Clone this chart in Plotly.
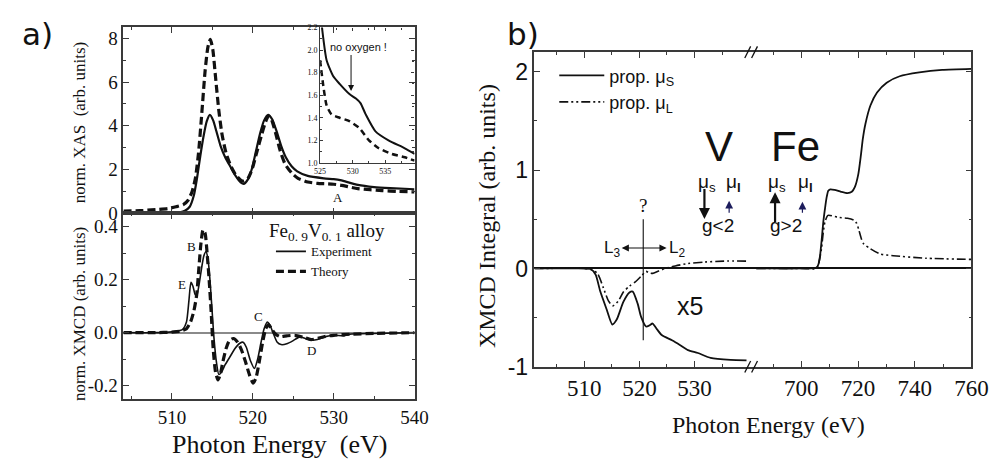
import plotly.graph_objects as go

W, H = 999, 463
def px(x): return x / W
def py(y): return 1 - y / H

SERIF = "Liberation Serif"
SANS = "Liberation Sans"
INK = "#111111"
AX = "#3a3a3a"

# ---------------- panel a: XAS ----------------
xas_exp_E = [504, 508, 510, 511, 511.6, 512.2, 512.7, 513.1, 513.5, 513.9, 514.3, 514.7, 515.1, 515.5,
             516.0, 516.6, 517.2, 517.9, 518.5, 518.9, 519.4, 519.9, 520.4, 520.9, 521.4, 521.9, 522.4,
             522.9, 523.5, 524.1, 524.8, 525.5, 526.8, 528.8, 530.0, 530.8, 531.5, 533.0, 535.0, 537.0, 540.0]
xas_exp_I = [0.0, 0.0, 0.02, 0.05, 0.12, 0.3, 0.8, 1.6, 2.6, 3.5, 4.2, 4.5, 4.25, 3.75,
             3.1, 2.55, 2.15, 1.7, 1.42, 1.35, 1.55, 2.05, 2.85, 3.65, 4.25, 4.5, 4.3,
             3.8, 3.1, 2.55, 2.15, 1.92, 1.71, 1.6, 1.56, 1.52, 1.45, 1.3, 1.2, 1.15, 1.1]

xas_th_E = [504, 506, 508, 509.5, 510.5, 511.4, 512.0, 512.5, 512.9, 513.3, 513.7, 514.1, 514.45, 514.75,
            515.05, 515.4, 515.8, 516.2, 516.7, 517.3, 517.9, 518.5, 518.9, 519.4, 519.9, 520.5, 521.1,
            521.6, 521.95, 522.3, 522.8, 523.4, 524.0, 524.8, 525.6, 526.8, 528.0, 529.0, 530.0, 531.0,
            532.0, 533.0, 534.5, 536.0, 538.0, 540.0]
xas_th_I = [0.1, 0.12, 0.17, 0.22, 0.3, 0.4, 0.6, 1.0, 1.6, 2.8, 4.6, 6.5, 7.6, 7.95,
            7.5, 6.2, 4.7, 3.6, 2.75, 2.15, 1.75, 1.52, 1.47, 1.6, 2.0, 2.8, 3.6,
            4.2, 4.45, 4.3, 3.7, 2.85, 2.25, 1.85, 1.6, 1.43, 1.37, 1.35, 1.33, 1.28,
            1.2, 1.13, 1.08, 1.04, 1.0, 0.98]

# inset (O K-edge region)
ins_exp_E = [525.0, 525.5, 526.0, 527.0, 528.0, 529.5, 530.5, 531.2, 532.0, 533.5, 535.5, 538.0, 539.5]
ins_exp_I = [2.35, 2.1, 1.91, 1.77, 1.70, 1.61, 1.57, 1.53, 1.43, 1.28, 1.20, 1.13, 1.08]
ins_th_E = [525.0, 525.5, 526.0, 526.75, 528.0, 529.5, 531.0, 532.5, 534.0, 536.0, 538.0, 539.5]
ins_th_I = [1.91, 1.68, 1.51, 1.43, 1.40, 1.37, 1.31, 1.20, 1.13, 1.08, 1.05, 1.02]

# ---------------- panel a: XMCD ----------------
mcd_exp_E = [504, 508, 510, 511, 511.4, 511.8, 512.1, 512.35, 512.6, 512.85, 513.05, 513.35, 513.65,
             513.95, 514.2, 514.45, 514.7, 514.95, 515.2, 515.5, 515.8, 516.1, 516.6, 517.2, 517.8,
             518.4, 518.8, 519.2, 519.7, 520.2, 520.6, 521.0, 521.4, 521.8, 522.1, 522.5, 523.0,
             523.5, 524.2, 525.0, 525.8, 526.5, 527.2, 528.0, 529.0, 530.0, 531.3, 532.0, 535.0, 540.0]
mcd_exp_I = [0, 0, 0.003, 0.008, 0.015, 0.04, 0.12, 0.19, 0.175, 0.145, 0.137, 0.18, 0.24,
             0.29, 0.305, 0.28, 0.2, 0.09, -0.02, -0.11, -0.158, -0.15, -0.12, -0.09, -0.06,
             -0.04, -0.036, -0.055, -0.105, -0.135, -0.1, -0.04, 0.015, 0.04, 0.03, 0.0, -0.035,
             -0.045, -0.042, -0.03, -0.016, -0.022, -0.028, -0.026, -0.015, -0.01, -0.012, -0.006, -0.003, 0]

mcd_th_E = [504, 508, 510, 511, 511.8, 512.3, 512.7, 513.05, 513.35, 513.6, 513.85, 514.1, 514.35,
            514.6, 514.85, 515.1, 515.4, 515.7, 516.0, 516.3, 516.7, 517.1, 517.6, 518.1, 518.6,
            519.1, 519.6, 520.05, 520.4, 520.8, 521.2, 521.6, 521.95, 522.3, 522.8, 523.4, 524.2,
            525.2, 526.3, 527.2, 528.0, 529.0, 530.0, 532.0, 535.0, 540.0]
mcd_th_I = [0, 0, 0.002, 0.005, 0.015, 0.04, 0.08, 0.14, 0.25, 0.34, 0.388, 0.375, 0.3,
            0.2, 0.08, -0.06, -0.15, -0.178, -0.155, -0.11, -0.06, -0.03, -0.022, -0.035, -0.065,
            -0.11, -0.16, -0.19, -0.17, -0.11, -0.04, 0.015, 0.03, 0.015, -0.005, -0.015, -0.012,
            -0.01, -0.018, -0.026, -0.022, -0.014, -0.01, -0.006, -0.003, 0]

# ---------------- panel b: integrals ----------------
v_ms_E = [501, 505, 510, 511.2, 512.1, 512.9, 514.1, 515.1, 515.9, 517.1, 518.2, 518.8, 519.7, 520.3,
          521.2, 521.8, 522.4, 523.2, 524.1, 525.9, 527.4, 528.8, 530.6, 532.9, 536.5, 539.4]
v_ms_I = [0, 0, 0, -0.005, -0.065, -0.23, -0.42, -0.57, -0.52, -0.34, -0.244, -0.235, -0.36, -0.49,
          -0.59, -0.58, -0.56, -0.62, -0.68, -0.73, -0.78, -0.83, -0.86, -0.91, -0.93, -0.935]
v_ml_E = [501, 510, 511.2, 512.4, 513.5, 514.4, 515.2, 516.2, 517.1, 518.2, 519.4, 520.3, 521.2,
          521.8, 522.4, 523.5, 524.7, 526.5, 528.8, 531.8, 535.3, 539.7]
v_ml_I = [0, 0, -0.01, -0.05, -0.2, -0.33, -0.38, -0.33, -0.24, -0.18, -0.13, -0.08, -0.03,
          -0.045, -0.05, -0.025, 0.0, 0.026, 0.05, 0.065, 0.075, 0.075]

fe_ms_E = [684.1, 690, 700, 704.5, 705.4, 706.0, 706.6, 707.2, 707.7, 708.3, 708.9, 709.5, 710.2,
           711.7, 714.0, 716.3, 717.8, 718.9, 720.1, 721.0, 721.7, 722.6, 724.4, 726.7, 730.1,
           734.7, 741.6, 749.7, 760]
fe_ms_I = [0, 0, 0, 0.003, 0.01, 0.04, 0.13, 0.3, 0.46, 0.6, 0.72, 0.79, 0.805,
           0.8, 0.78, 0.766, 0.78, 0.83, 0.96, 1.15, 1.32, 1.47, 1.66, 1.79, 1.89,
           1.955, 1.994, 2.02, 2.03]
fe_ml_E = [684.1, 700, 705.3, 706.1, 707.1, 707.7, 708.3, 709.4, 712.9, 716.3, 718.6, 719.5, 720.3,
           721.2, 722.0, 724.4, 727.8, 732.4, 743.9, 760]
fe_ml_I = [0, 0, 0, 0.05, 0.2, 0.36, 0.47, 0.54, 0.52, 0.51, 0.49, 0.46, 0.39,
           0.3, 0.25, 0.2, 0.147, 0.13, 0.104, 0.092]

fig = go.Figure()

solid_a = dict(color=INK, width=2.2, shape="spline", smoothing=0.6)
dash_a = dict(color=INK, width=3.2, dash="8px,4px", shape="spline", smoothing=0.6)

fig.add_trace(go.Scatter(x=xas_exp_E, y=xas_exp_I, mode="lines", line=solid_a, xaxis="x", yaxis="y", showlegend=False))
fig.add_trace(go.Scatter(x=xas_th_E, y=xas_th_I, mode="lines", line=dash_a, xaxis="x", yaxis="y", showlegend=False))
fig.add_trace(go.Scatter(x=ins_exp_E, y=ins_exp_I, mode="lines", line=dict(color=INK, width=2, shape="spline", smoothing=0.6), xaxis="x3", yaxis="y3", showlegend=False))
fig.add_trace(go.Scatter(x=ins_th_E, y=ins_th_I, mode="lines", line=dict(color=INK, width=2.5, dash="6px,4px", shape="spline", smoothing=0.6), xaxis="x3", yaxis="y3", showlegend=False))
fig.add_trace(go.Scatter(x=mcd_exp_E, y=mcd_exp_I, mode="lines", name="Experiment", line=dict(color=INK, width=1.6, shape="spline", smoothing=0.6), xaxis="x2", yaxis="y2", legend="legend"))
fig.add_trace(go.Scatter(x=mcd_th_E, y=mcd_th_I, mode="lines", name="Theory", line=dash_a, xaxis="x2", yaxis="y2", legend="legend"))

dd = "9px,3px,2px,3px,2px,3px"
fig.add_trace(go.Scatter(x=v_ms_E, y=v_ms_I, mode="lines", name="prop. μ<sub>S</sub>", line=dict(color=INK, width=1.8, shape="spline", smoothing=0.6), xaxis="x4", yaxis="y4", legend="legend2"))
fig.add_trace(go.Scatter(x=v_ml_E, y=v_ml_I, mode="lines", name="prop. μ<sub>L</sub>", line=dict(color=INK, width=1.6, dash=dd, shape="spline", smoothing=0.6), xaxis="x4", yaxis="y4", legend="legend2"))
fig.add_trace(go.Scatter(x=fe_ms_E, y=fe_ms_I, mode="lines", line=dict(color=INK, width=1.8, shape="spline", smoothing=0.6), xaxis="x5", yaxis="y5", showlegend=False))
fig.add_trace(go.Scatter(x=fe_ml_E, y=fe_ml_I, mode="lines", line=dict(color=INK, width=1.6, dash=dd, shape="spline", smoothing=0.6), xaxis="x5", yaxis="y5", showlegend=False))

def axstyle(**kw):
    d = dict(showline=True, linecolor=AX, linewidth=1.5, ticks="inside", tickcolor=AX, ticklen=6,
             tickwidth=1.2, showgrid=False, zeroline=False, mirror="ticks",
             tickfont=dict(family=SERIF, size=19, color=INK))
    d.update(kw)
    return d

xa_dom = [px(112), px(410)]
layout = dict(
    width=W, height=H, margin=dict(l=0, r=0, t=0, b=0),
    paper_bgcolor="white", plot_bgcolor="rgba(0,0,0,0)",
    xaxis=axstyle(domain=xa_dom, range=[504, 540.01], anchor="y", tick0=510, dtick=10, showticklabels=False,
                  minor=dict(ticks="inside", ticklen=3, tickcolor=AX, dtick=5, tick0=505)),
    yaxis=axstyle(domain=[py(209), py(16)], range=[0, 8.5], anchor="x", tick0=0, dtick=2,
                  minor=dict(ticks="inside", ticklen=3, tickcolor=AX, dtick=1, tick0=0)),
    xaxis2=axstyle(domain=xa_dom, range=[504, 540.01], anchor="y2", tick0=510, dtick=10,
                   minor=dict(ticks="inside", ticklen=3, tickcolor=AX, dtick=5, tick0=505)),
    yaxis2=axstyle(domain=[py(401.7), py(209)], range=[-0.25, 0.45], anchor="x2",
                   tickmode="array", tickvals=[-0.2, 0, 0.2, 0.4], ticktext=["-0.2", "0.0", "0.2", "0.4"],
                   zeroline=True, zerolinecolor="#8a8a8a", zerolinewidth=1.6,
                   minor=dict(ticks="inside", ticklen=3, tickcolor=AX, tickvals=[-0.1, 0.1, 0.3])),
    xaxis3=axstyle(domain=[px(313.3), px(410)], range=[525, 539.5], anchor="y3", tick0=525, dtick=5,
                   ticklen=3, linewidth=1.2, tickfont=dict(family=SERIF, size=8, color=INK),
                   minor=dict(ticks="inside", ticklen=2, tickcolor=AX, dtick=2.5)),
    yaxis3=axstyle(domain=[py(156.7), py(16)], range=[1.0, 2.2], anchor="x3", tick0=1.0, dtick=0.2,
                   tickformat=".1f", ticklen=3, linewidth=1.2, tickfont=dict(family=SERIF, size=8, color=INK),
                   minor=dict(ticks="inside", ticklen=2, tickcolor=AX, dtick=0.1)),
    xaxis4=axstyle(domain=[px(532.7), px(756)], range=[501, 540.5], anchor="y4",
                   tickmode="array", tickvals=[510, 520, 530], tickfont=dict(family=SERIF, size=23, color=INK),
                   minor=dict(ticks="inside", ticklen=3, tickcolor=AX, tickvals=[505, 515, 525, 535])),
    xaxis5=axstyle(domain=[px(756), px(980)], range=[682.8, 760.01], anchor="y5", tick0=700, dtick=20,
                   tickfont=dict(family=SERIF, size=23, color=INK),
                   minor=dict(ticks="inside", ticklen=3, tickcolor=AX, dtick=10, tick0=690)),
    yaxis4=axstyle(domain=[py(368.3), py(41.7)], range=[-1, 2.2], anchor="x4", mirror=False,
                   tickmode="array", tickvals=[-1, 0, 1, 2], ticktext=["-1", "0", "1", "2"],
                   tickfont=dict(family=SANS, size=23, color=INK),
                   zeroline=True, zerolinecolor=INK, zerolinewidth=1.5,
                   minor=dict(ticks="inside", ticklen=3, tickcolor=AX, tickvals=[-0.5, 0.5, 1.5])),
    yaxis5=axstyle(domain=[py(368.3), py(41.7)], range=[-1, 2.2], anchor="x5", side="right", mirror=False,
                   tickmode="array", tickvals=[-1, 0, 1, 2], showticklabels=False,
                   zeroline=True, zerolinecolor=INK, zerolinewidth=1.5,
                   minor=dict(ticks="inside", ticklen=3, tickcolor=AX, tickvals=[-0.5, 0.5, 1.5])),
    legend=dict(x=px(263), y=py(233), xanchor="left", yanchor="top", bgcolor="rgba(0,0,0,0)",
                font=dict(family=SERIF, size=13, color=INK), tracegroupgap=0, itemwidth=30),
    legend2=dict(x=px(553), y=py(47), xanchor="left", yanchor="top", bgcolor="rgba(0,0,0,0)",
                 font=dict(family=SANS, size=18, color=INK), tracegroupgap=0, itemwidth=45),
)
fig.update_layout(**layout)

ann = []
def T(x, y, text, size, family=SERIF, angle=0, color=INK, xanchor="center"):
    ann.append(dict(xref="paper", yref="paper", x=px(x), y=py(y), text=text, showarrow=False,
                    font=dict(family=family, size=size, color=color), textangle=angle,
                    xanchor=xanchor, yanchor="middle"))

T(24, 23, "a)", 31, family="DejaVu Sans")
T(521, 23, "b)", 31, family="DejaVu Sans")
T(67, 115, "norm. XAS  (arb. units)", 17, angle=-90)
T(67, 313, "norm. XMCD (arb. units)", 17, angle=-90)
T(272, 449, "Photon Energy  (eV)", 26)
T(484, 212, "XMCD Integral (arb. units)", 24, angle=-90)
T(772, 429, "Photon Energy (eV)", 24)
T(332, 193, "A", 13)
T(182, 243, "B", 13)
T(172, 283, "E", 13)
T(250, 316, "C", 13)
T(305, 351, "D", 13)
T(320, 228, "Fe<sub>0. 9</sub>V<sub>0. 1</sub> alloy", 19)
T(353, 36, "no oxygen !", 11, family=SANS)
T(644, 201, "?", 19)
T(612, 246, "L<sub>3</sub>", 17, family=SANS)
T(679, 246, "L<sub>2</sub>", 17, family=SANS)
T(692, 305, "x5", 25, family=SANS)
T(722, 140, "V", 42, family=SANS)
T(800, 140, "Fe", 42, family=SANS)
T(709, 177, "μ<sub>s</sub>", 19, family=SANS)
T(736, 177, "μ<sub><b>l</b></sub>", 19, family=SANS)
T(781, 177, "μ<sub>s</sub>", 19, family=SANS)
T(810, 177, "μ<sub><b>l</b></sub>", 19, family=SANS)
T(721, 222, "g<2", 19, family=SANS)
T(790, 222, "g>2", 19, family=SANS)

def A(x, y, ax, ay, width=2.0, size=1.0, head=2, color=INK):
    ann.append(dict(xref="paper", yref="paper", x=px(x), y=py(y), ax=ax, ay=ay, axref="pixel", ayref="pixel",
                    text=" ", font=dict(size=1), borderpad=0, showarrow=True, arrowhead=head,
                    arrowsize=size, arrowwidth=width, arrowcolor=color))

A(345, 82, 0, -37, width=1.0, size=1.2)           # inset arrow
A(706.7, 215, 0, -31, width=2.2, size=1.0)        # V mu_s down
A(732, 196, 0, 13, width=1.2, size=1.3, color="#1c1c5c")   # V mu_l up
A(779, 187, 0, 31, width=2.2, size=1.0)           # Fe mu_s up
A(807, 197, 0, 12, width=1.2, size=1.3, color="#1c1c5c")   # Fe mu_l up
A(622, 245, 22, 0, width=1.2, size=1.2)           # L3 arrow
A(668, 245, -24, 0, width=1.2, size=1.2)          # L2 arrow
fig.update_layout(annotations=ann)

shapes = []
# vertical marker line in panel b
shapes.append(dict(type="line", xref="x4", yref="y4", x0=520.7, x1=520.7, y0=0.5, y1=-0.73,
                   line=dict(color=INK, width=1.1)))
# axis break marks
for yb in (41.7, 368.3):
    for xb in (751, 758):
        shapes.append(dict(type="line", xref="paper", yref="paper", x0=px(xb - 3), x1=px(xb + 3),
                           y0=py(yb + 6), y1=py(yb - 6), line=dict(color=INK, width=1.3)))
fig.update_layout(shapes=shapes)

fig.write_html("out.html")
